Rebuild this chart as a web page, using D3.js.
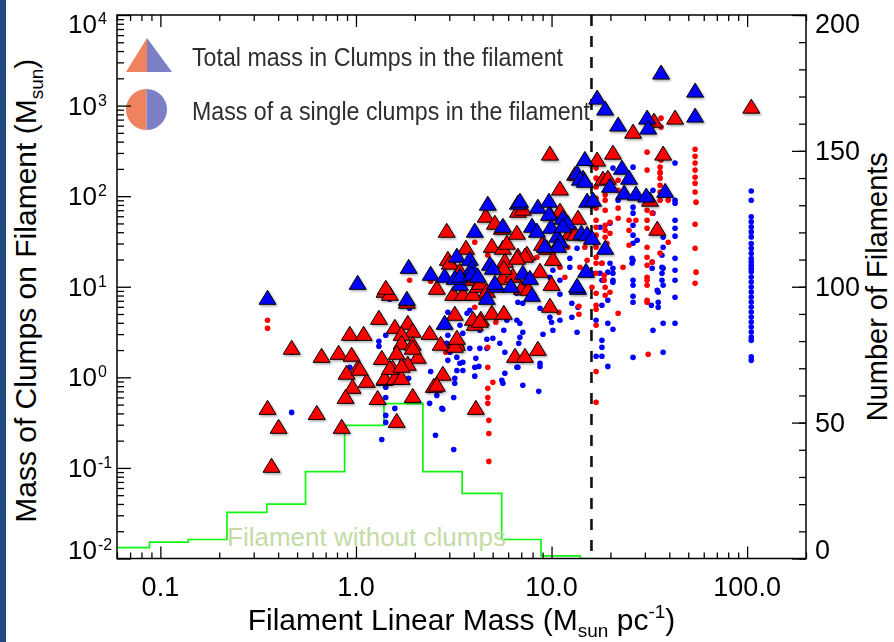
<!DOCTYPE html>
<html>
<head>
<meta charset="utf-8">
<script src="https://cdn.jsdelivr.net/npm/d3@7"></script>
<style>
body { margin: 0; background: #fff; }
svg { display: block; }
text { font-family: "Liberation Sans", Arial, Helvetica, sans-serif; }
</style>
</head>
<body>
<script>
// histogram of filaments without clumps (right axis)
var histEdges = [0.0555, 0.0879, 0.139, 0.219, 0.35, 0.552, 0.875, 1.39, 2.2, 3.49, 5.56, 8.83, 14.0, 17.2];
var histCounts = [4, 6, 7, 17, 20, 32, 49, 57, 32, 24, 7, 1, 0];

var xTicks = [0.1, 1, 10, 100];
var xTickLabels = ["0.1", "1.0", "10.0", "100.0"];
var yTicks = [1e-2, 1e-1, 1, 10, 100, 1000, 10000];
var yTickExp = ["-2", "-1", "0", "1", "2", "3", "4"];
var rTicks = [0, 50, 100, 150, 200];
var cutLine = 16;

// total mass in clumps, red / blue
var redTri = [
  [0.353,0.466],[0.402,0.288],[0.370,0.107],[0.469,2.15],[0.63,0.41],[0.667,1.75],[0.845,0.288],[0.815,1.89],
  [0.95,1.80],[0.93,3.06],[1.094,3.06],[1.31,4.60],[1.40,9.15],[1.49,8.47],[1.58,3.66],[1.355,1.66],[1.02,1.29],
  [0.895,1.14],[1.135,0.927],[0.96,0.796],[0.885,0.617],[1.29,0.60],[1.40,0.975],[1.615,0.335],[1.95,0.632],
  [2.5,0.816],[1.84,4.05],[1.95,3.31],[1.71,3.06],[2.38,3.14],[2.71,2.38],[3.24,2.56],[3.28,2.38],[3.20,5.10],
  [4.05,3.95],[4.35,4.49],[4.95,5.23],[5.70,5.23],[1.71,2.44],[1.95,2.38],[1.615,1.89],[2.07,1.71],[1.84,1.43],
  [1.54,1.29],[1.40,1.0],[1.58,1.0],[1.71,1.0],[1.045,1.26],[2.78,1.11],[2.59,0.84],[4.1,0.466],[6.5,1.75],
  [2.59,9.87],[3.14,8.47],[3.52,8.47],[3.96,8.47],[4.20,10.4],[1.82,6.92],[1.42,9.87],[2.91,42.1],[3.65,27.3],
  [4.95,28.7],[5.64,27.3],[5.91,31.0],[4.61,61.7],[5.13,51.6],[5.57,45.4],[6.73,70.0],[6.65,40.0],[2.95,20.6],
  [3.02,18.7],[5.77,19.6],[5.64,12.7],[6.34,13.4],[3.40,15.2],[3.7,12.4],[4.30,11.2],[4.67,9.15],[5.70,16.4],
  [6.73,22.3],[7.48,23.5],[8.73,15.2],[10.0,10.9],[9.81,6.25],[3.96,4.49],[4.30,4.27],[3.20,2.26],[3.28,2.77],
  [1.95,2.15],[1.49,1.29],[1.71,1.36],[7.31,1.75],[8.51,2.09],[9.81,299],[17.1,257],[20.6,306],[37.2,299],
  [26.1,522],[33.4,690],[18.3,158],[19.4,162],[13.2,179],[11.04,123],[31.9,92.7],[7.13,73.7],[11.04,70.0],
  [13.65,58.6],[12.4,40.0],[34.7,44.3],[8.94,30.2],[9.47,27.3],[10.16,20.6],[7.31,22.3],[6.65,21.2],[9.81,64.9],
  [13.2,39.0],[105,986],[42.8,746],[7.05,9.87],[7.6,9.62]
];
var blueTri = [
  [0.353,7.65],[1.02,11.2],[1.82,7.46],[1.86,16.8],[2.41,14.1],[2.84,4.05],[3.40,10.9],[4.67,7.65],[5.25,10.4],
  [6.2,10.4],[7.94,8.26],[13.65,9.87],[4.72,83.7],[6.73,85.9],[5.64,47.8],[4.05,42.1],[3.28,22.3],[3.82,20.6],
  [3.9,16.4],[2.84,13.4],[3.20,12.7],[3.40,13.4],[3.9,14.1],[4.20,13.4],[4.84,18.2],[5.01,16.4],[6.89,90.3],
  [8.51,77.6],[9.70,90.3],[15.2,90.3],[16.3,92.7],[14.8,261],[14.5,162],[13.5,184],[13.97,158],[14.8,150],
  [22.9,209],[24.9,162],[19.9,132],[23.5,111],[27.0,108],[30.5,103],[38.1,116],[9.70,64.9],[11.4,58.6],
  [12.1,51.6],[7.94,47.8],[8.42,42.1],[9.93,46.6],[10.7,37.1],[11.04,32.6],[10.8,28.7],[14.2,40.0],[15.2,39.0],
  [16.1,35.2],[18.8,27.3],[15.0,15.2],[7.13,14.5],[7.75,12.7],[13.5,10.4],[11.4,47.8],[9.25,28.7],[5.13,11.2],
  [36.3,2345],[54.2,1483],[54.2,785],[17.1,1240],[18.8,938],[21.9,625],[30.8,746],[31.2,579]
];

// mass of single clumps, red / blue
var redDot = [
  [0.353,4.27],[0.353,3.48],[4.05,5.93],[5.19,4.05],[4.72,2.15],[4.72,1.29],[5.01,0.88],[4.72,0.756],[4.72,0.60],
  [4.72,0.516],[4.78,0.335],[4.78,0.24],[4.78,0.118],[2.88,1.89],[1.88,11.8],[2.41,11.5],[4.05,31.0],[4.72,22.3],
  [3.28,16.4],[13.8,6.09],[13.8,4.97],[10.9,5.23],[16.9,6.25],[16.9,5.64],[16.9,3.76],[16.9,1.16],[16.9,0.53],
  [21.9,5.10],[19.9,8.69],[18.8,8.05],[18.8,9.87],[16.1,9.87],[16.9,8.47],[30.8,10.4],[30.8,6.74],[31.2,1.80],
  [16.9,204],[16.9,158],[16.9,126],[16.9,95],[16.9,83.7],[16.9,73.7],[16.9,54.3],[16.9,45.4],[16.9,37.1],
  [16.9,27.3],[16.9,21.2],[16.9,18.2],[16.9,14.1],[18.8,103],[18.8,90.3],[18.8,70],[18.8,42.1],[18.8,35.2],
  [30.8,306],[30.8,194],[35.9,184],[35.9,158],[35.9,132],[35.9,111],[35.9,90.3],[30.8,70],[30.8,54.3],
  [30.8,44.3],[30.8,27.3],[30.8,21.2],[30.8,17.3],[21.9,150],[21.9,73.7],[21.9,57.1],[19.9,51.6],[24.9,54.3],
  [24.9,42.1],[24.9,28.7],[27.0,54.3],[23.2,16.4],[15.2,19.6],[13.97,16.4],[12.1,27.3],[14.8,27.3],[8.42,21.2],
  [11.04,16.4],[11.7,12.7],[36.3,250],[54.2,330],[54.2,275],[54.2,232],[54.2,194],[54.2,162],[54.2,139],
  [54.2,111],[54.8,85.9],[35.9,209],[35.9,179],[39.5,90.3],[21.9,116],[31.9,83.7],[36.3,727],[36.3,579],
  [54.2,49.0],[54.2,26.6],[54.8,14.5],[54.2,10.9],[30.8,12.7],[30.8,11.8],[30.8,7.1],[32.7,18.7],[35.9,23.5],
  [39.5,31.0],[32.7,64.9],[18.8,47.8],[19.9,39.0],[18.6,13.4],[18.6,11.8],[19.2,30.2],[18.1,18.2]
];
var blueDot = [
  [0.469,1.89],[0.469,0.41],[1.49,7.3],[1.42,2.91],[1.31,2.50],[1.31,2.20],[0.93,1.29],[1.42,0.776],[1.42,0.60],
  [1.58,0.454],[1.42,0.38],[1.42,0.318],[1.355,0.206],[2.38,0.516],[2.59,0.632],[2.78,0.443],[2.55,0.229],
  [1.86,0.975],[1.86,1.50],[1.71,1.47],[1.88,5.78],[2.95,5.23],[3.28,4.60],[3.7,5.10],[3.82,5.5],[2.95,2.91],
  [2.91,2.38],[3.02,1.89],[2.95,1.54],[3.28,1.66],[3.40,1.43],[3.52,1.19],[3.28,1.19],[3.20,0.975],[3.20,0.86],
  [3.52,1.47],[4.1,1.62],[4.05,1.29],[4.05,1.03],[4.25,1.32],[2.41,1.16],[2.38,0.718],[2.75,0.454],[3.16,0.60],
  [3.16,0.16],[5.19,4.72],[5.70,3.31],[5.01,2.70],[4.67,2.63],[4.30,2.09],[4.67,2.09],[5.91,4.27],[6.65,4.27],
  [5.44,2.38],[5.77,1.89],[6.65,1.29],[5.77,1.11],[5.57,0.927],[5.64,0.86],[4.30,3.31],[3.52,3.06],[3.40,3.76],
  [3.82,2.09],[6.65,8.47],[6.73,6.74],[7.13,6.57],[8.73,5.78],[9.81,4.60],[10.0,4.05],[11.04,4.27],[11.04,8.26],
  [12.7,6.57],[12.7,4.60],[13.5,3.14],[13.65,5.93],[10.16,3.31],[9.04,2.99],[7.13,3.14],[6.89,2.77],[6.8,2.38],
  [7.13,1.54],[6.73,1.29],[8.73,1.43],[8.73,1.32],[7.13,0.816],[8.6,0.70],[6.89,3.95],[16.9,4.27],[18.1,6.25],
  [18.1,2.56],[18.1,2.15],[16.9,1.71],[18.1,1.71],[19.4,1.32],[19.4,3.95],[20.6,3.39],[19.4,7.10],[20.6,11.2],
  [26.1,11.8],[26.1,10.4],[26.1,7.86],[26.1,6.74],[26.1,1.66],[33.0,3.31],[37.2,3.95],[37.2,1.89],[35.1,8.69],
  [35.1,6.74],[35.1,5.93],[32.4,6.25],[37.2,10.4],[26.1,209],[26.1,75.6],[26.1,64.9],[26.1,47.8],[26.1,37.1],
  [27.4,32.6],[19.9,50.3],[17.7,45.4],[16.7,30.2],[18.1,18.2],[19.9,18.2],[20.6,16.0],[17.7,14.1],[25.8,20.6],
  [25.8,18.2],[32.7,18.7],[32.7,16.0],[36.7,22.3],[36.7,16.4],[36.7,14.1],[36.7,11.8],[33.0,64.9],[33.0,116],
  [12.4,16.4],[12.4,20.6],[13.5,26.6],[10.16,15.2],[11.04,11.8],[18.1,11.8],[16.1,14.1],[9.81,12.7],[42.8,232],
  [20.6,204],[42.8,90.3],[42.8,83.7],[42.8,54.3],[42.8,44.3],[42.8,36.2],[42.8,20.6],[42.8,15.2],[42.8,11.8],
  [42.8,7.65],[42.8,3.95],[37.2,35.2],[37.2,27.3],[37.2,16.0],[34.7,9.15],[26.1,30.2],[26.1,19.6],[20.6,14.1],
  [20.6,11.8],[19.4,14.5],[21.9,90.3],
  [105,114],[105,90.3],[105,59.2],[105,52.1],[105,45.8],[105,40.3],[105,35.5],[105,30.0],[105,26.5],[105,23.3],
  [105,20.5],[105,18.8],[105,17.3],[105,15.9],[105,14.6],[105,12.8],[105,11.3],[105,9.95],[105,8.76],[105,7.7],
  [105,6.78],[105,5.97],[105,5.26],[105,4.63],[105,4.08],[105,3.59],[105,3.16],[105,2.79],[105,2.56],[105,1.68],
  [105,1.54]
];

var width = 894, height = 642;
var plotLeft = 117, plotRight = 806, plotTop = 15, plotBottom = 558.5;

var svg = d3.select("body").append("svg")
    .attr("width", width)
    .attr("height", height);

var x = d3.scaleLog().domain([0.06, 200]).range([plotLeft, plotRight]);
var y = d3.scaleLog().domain([0.01, 10000]).range([plotBottom, plotTop]);
var yR = d3.scaleLinear().domain([0, 200]).range([plotBottom, plotTop]);

var defs = svg.append("defs");
defs.append("clipPath").attr("id", "plotclip")
    .append("rect").attr("x", plotLeft).attr("y", plotTop)
    .attr("width", plotRight - plotLeft).attr("height", plotBottom - plotTop);
defs.append("filter").attr("id", "shadow").attr("x", "-30%").attr("y", "-30%").attr("width", "160%").attr("height", "160%")
    .append("feDropShadow").attr("dx", 1.2).attr("dy", 1.5).attr("stdDeviation", 0.8)
    .attr("flood-color", "#000").attr("flood-opacity", 0.35);
defs.append("filter").attr("id", "blur")
    .append("feGaussianBlur").attr("stdDeviation", 0.45);

svg.append("rect").attr("width", width).attr("height", height).attr("fill", "#fff");
// dark strip at the left edge
svg.append("rect").attr("x", 0).attr("y", 0).attr("width", 6).attr("height", height).attr("fill", "#1f4b7f");

// histogram
var histPts = histCounts.map(function(c, i) { return { e: histEdges[i], c: c }; });
histPts.push({ e: histEdges[histEdges.length - 1], c: histCounts[histCounts.length - 1] });
svg.append("path")
    .datum(histPts)
    .attr("clip-path", "url(#plotclip)")
    .attr("fill", "none")
    .attr("stroke", "#10f510")
    .attr("stroke-width", 1.7)
    .attr("d", d3.line().x(function(d) { return x(d.e); }).y(function(d) { return yR(d.c); }).curve(d3.curveStepAfter));

svg.append("text")
    .attr("x", 227).attr("y", 545.5)
    .attr("font-size", 26)
    .attr("fill", "#c4dba6")
    .text("Filament without clumps");

// legend
var orange = "#f0835f", purple = "#7b80c4";
var lg = svg.append("g").attr("filter", "url(#blur)");
lg.append("path").attr("d", "M126,72L147,38L147,72Z").attr("fill", orange);
lg.append("path").attr("d", "M147,38L172,72L147,72Z").attr("fill", purple);
lg.append("path").attr("d", d3.arc()({ innerRadius: 0, outerRadius: 20.5, startAngle: Math.PI, endAngle: 2 * Math.PI }))
    .attr("transform", "translate(146.5,109.5)").attr("fill", orange);
lg.append("path").attr("d", d3.arc()({ innerRadius: 0, outerRadius: 20.5, startAngle: 0, endAngle: Math.PI }))
    .attr("transform", "translate(146.5,109.5)").attr("fill", purple);
lg.append("text").attr("x", 192).attr("y", 66).attr("font-size", 26).attr("fill", "#2e2e2e")
    .attr("textLength", 371).attr("lengthAdjust", "spacingAndGlyphs")
    .text("Total mass in Clumps in the filament");
lg.append("text").attr("x", 192).attr("y", 120).attr("font-size", 26).attr("fill", "#2e2e2e")
    .attr("textLength", 398).attr("lengthAdjust", "spacingAndGlyphs")
    .text("Mass of a single clumps in the filament");

// dashed threshold
svg.append("line")
    .attr("x1", x(cutLine)).attr("x2", x(cutLine))
    .attr("y1", plotTop).attr("y2", plotBottom)
    .attr("stroke", "#111").attr("stroke-width", 2.6)
    .attr("stroke-dasharray", "11,10");

// points
var pts = svg.append("g").attr("clip-path", "url(#plotclip)");
function dots(data, color) {
  pts.append("g").selectAll("circle").data(data).enter().append("circle")
    .attr("cx", function(d) { return x(d[0]); })
    .attr("cy", function(d) { return y(d[1]); })
    .attr("r", 2.8)
    .attr("fill", color);
}
function tris(data, color) {
  pts.append("g").attr("filter", "url(#shadow)")
    .selectAll("path").data(data).enter().append("path")
    .attr("d", "M0,-7L8.5,7L-8.5,7Z")
    .attr("transform", function(d) { return "translate(" + x(d[0]) + "," + y(d[1]) + ")"; })
    .attr("fill", color)
    .attr("stroke", "#000")
    .attr("stroke-width", 1);
}
dots(blueDot, "#0000ff");
dots(redDot, "#ff0000");
tris(redTri, "#ff0000");
tris(blueTri, "#0000ff");

// axes
function logMinor(lo, hi) {
  var out = [];
  for (var e = Math.floor(Math.log10(lo)); e <= Math.ceil(Math.log10(hi)); e++) {
    for (var k = 2; k <= 9; k++) {
      var v = k * Math.pow(10, e);
      if (v >= lo && v <= hi) out.push(v);
    }
  }
  return out;
}
function styleAxis(g) {
  g.select(".domain").remove();
  g.selectAll("line").attr("stroke", "#000").attr("stroke-width", 1.3);
}

svg.append("g").attr("transform", "translate(" + plotLeft + ",0)")
    .call(d3.axisRight(y).tickValues(logMinor(0.01, 10000)).tickSize(7).tickFormat("")).call(styleAxis);
svg.append("g").attr("transform", "translate(" + plotLeft + ",0)")
    .call(d3.axisRight(y).tickValues(yTicks).tickSize(14).tickFormat("")).call(styleAxis);

svg.append("g").attr("transform", "translate(0," + plotBottom + ")")
    .call(d3.axisTop(x).tickValues(logMinor(0.06, 200)).tickSize(6).tickFormat("")).call(styleAxis);
svg.append("g").attr("transform", "translate(0," + plotBottom + ")")
    .call(d3.axisTop(x).tickValues(xTicks).tickSize(12).tickFormat("")).call(styleAxis);
svg.append("g").attr("transform", "translate(0," + plotTop + ")")
    .call(d3.axisBottom(x).tickValues(logMinor(0.06, 200)).tickSize(6).tickFormat("")).call(styleAxis);
svg.append("g").attr("transform", "translate(0," + plotTop + ")")
    .call(d3.axisBottom(x).tickValues(xTicks).tickSize(12).tickFormat("")).call(styleAxis);

svg.append("g").attr("transform", "translate(" + plotRight + ",0)")
    .call(d3.axisLeft(yR).tickValues(d3.range(0, 201, 10)).tickSize(7).tickFormat("")).call(styleAxis);
svg.append("g").attr("transform", "translate(" + plotRight + ",0)")
    .call(d3.axisLeft(yR).tickValues(rTicks).tickSize(14).tickFormat("")).call(styleAxis);

svg.append("rect")
    .attr("x", plotLeft).attr("y", plotTop)
    .attr("width", plotRight - plotLeft).attr("height", plotBottom - plotTop)
    .attr("fill", "none").attr("stroke", "#000").attr("stroke-width", 1.5);

// tick labels
function endShift(i, n) { return i === 0 ? 0 : (i === n - 1 ? 18 : 9); }

yTicks.forEach(function(v, i) {
  var by = y(v) + endShift(i, yTicks.length);
  svg.append("text").attr("x", 97).attr("y", by).attr("text-anchor", "end").attr("font-size", 26).text("10");
  svg.append("text").attr("x", 98).attr("y", by - 9).attr("font-size", 16).text(yTickExp[i]);
});

xTicks.forEach(function(v, i) {
  svg.append("text").attr("x", x(v)).attr("y", 596).attr("text-anchor", "middle").attr("font-size", 27).text(xTickLabels[i]);
});

rTicks.forEach(function(v, i) {
  svg.append("text").attr("x", 815).attr("y", yR(v) + endShift(i, rTicks.length)).attr("font-size", 27).text(v);
});

// axis titles
var xt = svg.append("text").attr("x", (plotLeft + plotRight) / 2).attr("y", 630).attr("text-anchor", "middle").attr("font-size", 30);
xt.append("tspan").text("Filament Linear Mass (M");
xt.append("tspan").attr("font-size", 19).attr("dy", 7).text("sun");
xt.append("tspan").attr("dy", -7).text(" pc");
xt.append("tspan").attr("font-size", 19).attr("dy", -12).text("-1");
xt.append("tspan").attr("dy", 12).text(")");

var yt = svg.append("text").attr("transform", "translate(36," + ((plotTop + plotBottom) / 2 + 4) + ") rotate(-90)")
    .attr("text-anchor", "middle").attr("font-size", 30);
yt.append("tspan").text("Mass of Clumps on Filament (M");
yt.append("tspan").attr("font-size", 19).attr("dy", 7).text("sun");
yt.append("tspan").attr("dy", -7).text(")");

svg.append("text").attr("transform", "translate(887," + ((plotTop + plotBottom) / 2) + ") rotate(-90)")
    .attr("text-anchor", "middle").attr("font-size", 29)
    .text("Number of Filaments");
</script>
</body>
</html>
